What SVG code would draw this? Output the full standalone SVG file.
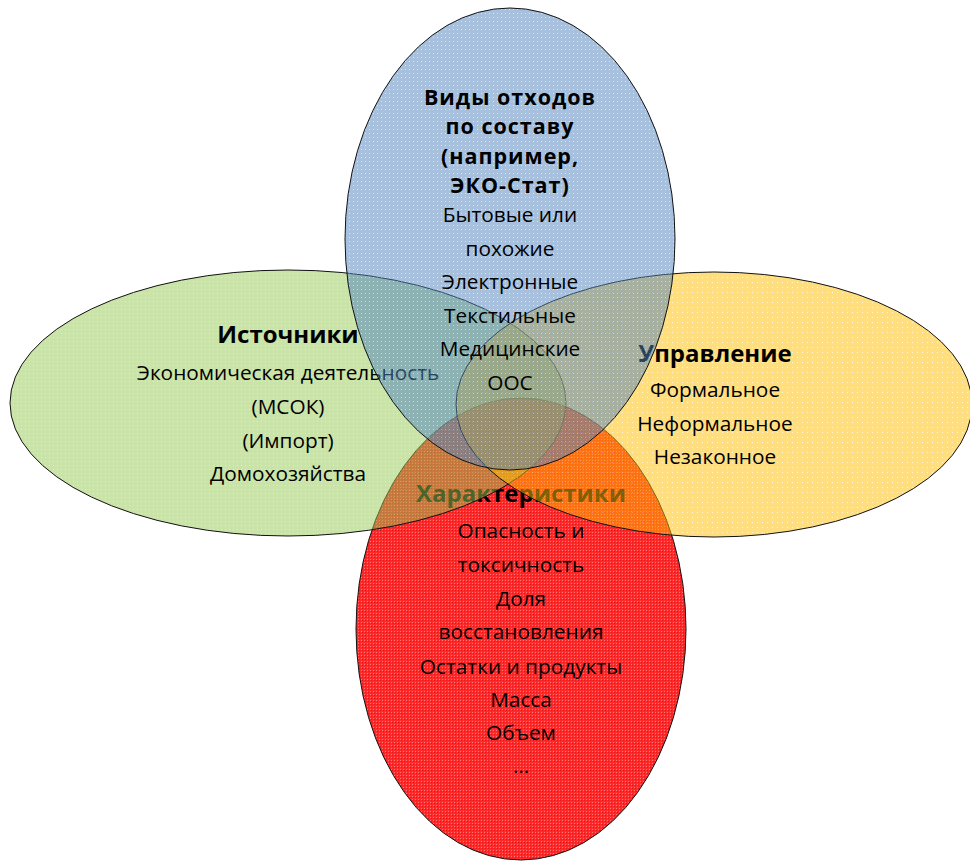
<svg xmlns="http://www.w3.org/2000/svg" width="970" height="861" viewBox="0 0 970 861">
<style>
.e{stroke:#111;stroke-width:1}
.t{font-family:"Open Sans","Noto Sans","DejaVu Sans",sans-serif;font-size:20.8px;fill:#000;text-anchor:middle}
.h{font-family:"Open Sans","Noto Sans","DejaVu Sans",sans-serif;font-size:24px;font-weight:bold;fill:#000;text-anchor:middle}
.ht{font-size:21.5px;letter-spacing:1px}
</style>
<defs>
<pattern id="pb" width="4" height="4" patternUnits="userSpaceOnUse"><rect width="4" height="4" fill="#4f81bd"/><rect x="1" y="1" width="1" height="1" fill="#ffffff" opacity="0.6"/></pattern>
<pattern id="pg" width="4" height="4" patternUnits="userSpaceOnUse"><rect width="4" height="4" fill="#93c752"/><rect x="1" y="1" width="1" height="1" fill="#ffffff" opacity="0.4"/></pattern>
<pattern id="py" width="5" height="5" patternUnits="userSpaceOnUse"><rect width="5" height="5" fill="#ffbd00"/><rect x="2" y="2" width="1" height="1" fill="#ffffff" opacity="0.7"/></pattern>
<pattern id="pr" width="3" height="3" patternUnits="userSpaceOnUse"><rect width="3" height="3" fill="#ff1e1e"/><rect x="1" y="1" width="1" height="1" fill="#ff7070"/><rect x="2" y="2" width="1" height="1" fill="#d81010"/></pattern>
</defs>
<rect width="970" height="861" fill="#ffffff"/>
<g id="connectors"></g>
<g id="node-characteristics">
<ellipse class="e" cx="521" cy="629" rx="165" ry="231" fill="url(#pr)" fill-opacity="0.95"/>
<text class="h" x="521" y="502">Характеристики</text>
<text class="t" x="521" y="538">Опасность и</text>
<text class="t" x="521" y="572">токсичность</text>
<text class="t" x="521" y="606">Доля</text>
<text class="t" x="521" y="639">восстановления</text>
<text class="t" x="521" y="674">Остатки и продукты</text>
<text class="t" x="521" y="707">Масса</text>
<text class="t" x="521" y="740">Объем</text>
<text class="t" x="521" y="773">…</text>
</g>
<g id="node-sources">
<ellipse class="e" cx="288" cy="403" rx="278" ry="133" fill="url(#pg)" fill-opacity="0.5"/>
<text class="h" x="288" y="343">Источники</text>
<text class="t" x="288" y="380">Экономическая деятельность</text>
<text class="t" x="288" y="414">(МСОК)</text>
<text class="t" x="288" y="448">(Импорт)</text>
<text class="t" x="288" y="481">Домохозяйства</text>
</g>
<g id="node-management">
<ellipse class="e" cx="714" cy="404.5" rx="258" ry="132.5" fill="url(#py)" fill-opacity="0.5"/>
<text class="h" x="715" y="362">Управление</text>
<text class="t" x="715" y="397">Формальное</text>
<text class="t" x="715" y="431">Неформальное</text>
<text class="t" x="715" y="464">Незаконное</text>
</g>
<g id="node-types">
<ellipse class="e" cx="510" cy="239" rx="165" ry="231" fill="url(#pb)" fill-opacity="0.5"/>
<text class="h ht" x="510" y="104.5">Виды отходов</text>
<text class="h ht" x="510" y="134">по составу</text>
<text class="h ht" x="510" y="163.5">(например,</text>
<text class="h ht" x="510" y="193">ЭКО-Стат)</text>
<text class="t" x="510" y="222">Бытовые или</text>
<text class="t" x="510" y="255.5">похожие</text>
<text class="t" x="510" y="289">Электронные</text>
<text class="t" x="510" y="322.5">Текстильные</text>
<text class="t" x="510" y="356">Медицинские</text>
<text class="t" x="510" y="389.5">ООС</text>
</g>
</svg>
